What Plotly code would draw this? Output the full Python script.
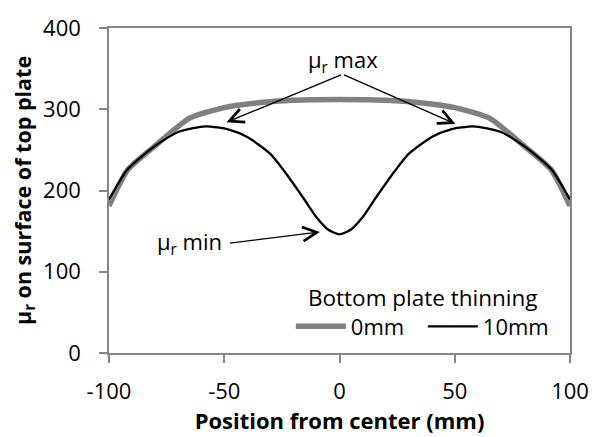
import plotly.graph_objects as go

x_0mm = [-100, -92, -80, -65, -50, -35, -20, 0, 20, 35, 50, 65, 80, 92, 100]
y_0mm = [181, 225, 255, 289, 302, 308, 311, 312, 311, 308, 302, 289, 255, 225, 181]

x_10mm = [-100, -92, -80, -70, -58, -48, -40, -30, -24, -15, -10, -5, 0,
          5, 10, 15, 24, 30, 40, 48, 58, 70, 80, 92, 100]
y_10mm = [189, 226, 255, 272, 279, 275, 266, 245, 224, 188, 167, 152, 146,
          152, 167, 188, 224, 245, 266, 275, 279, 272, 255, 226, 189]

x_ticks = [-100, -50, 0, 50, 100]
x_ticktext = ["-100", "-50", "0", "50", "100"]
y_ticks = [0, 100, 200, 300, 400]

font_family = "'Open Sans', sans-serif"
fs = 22

fig = go.Figure()
fig.add_trace(go.Scatter(x=x_0mm, y=y_0mm, mode="lines", name="0mm",
                         line=dict(color="#808080", width=5.5, shape="spline", smoothing=0.6)))
fig.add_trace(go.Scatter(x=x_10mm, y=y_10mm, mode="lines", name="10mm",
                         line=dict(color="#000000", width=2.3, shape="spline", smoothing=0.6)))

arrow_style = dict(xref="x", yref="y", axref="x", ayref="y", text="", showarrow=True,
                   arrowhead=5, arrowsize=2, arrowwidth=1.4, arrowcolor="black")
for hx, hy in [(-49, 284), (50.3, 282)]:
    fig.add_annotation(x=hx, y=hy, ax=1.3, ay=343, **arrow_style)
fig.add_annotation(x=1.7, y=360, xref="x", yref="y", text="μ<sub>r</sub> max",
                   xanchor="center", yanchor="middle", showarrow=False,
                   font=dict(size=fs, color="black", family=font_family))
fig.add_annotation(x=-8.5, y=149, ax=-48.2, ay=135, **arrow_style)
fig.add_annotation(x=-65, y=136, xref="x", yref="y", text="μ<sub>r</sub> min",
                   xanchor="center", yanchor="middle", showarrow=False,
                   font=dict(size=fs, color="black", family=font_family))
fig.add_annotation(x=(428 - 109) / 469, y=(356 - 299) / 332, xref="paper", yref="paper",
                   text="Bottom plate thinning", xanchor="center", yanchor="middle",
                   showarrow=False, font=dict(size=fs + 0.5, color="black", family=font_family))

axis_common = dict(showline=True, linecolor="#868686", linewidth=1.5, mirror=True,
                   ticks="outside", ticklen=8, tickcolor="#868686", tickwidth=1.5,
                   showgrid=False, zeroline=False,
                   tickfont=dict(size=fs, color="black", family=font_family))

fig.update_layout(
    width=601, height=437,
    margin=dict(l=109, r=22, t=24, b=81),
    plot_bgcolor="white", paper_bgcolor="white",
    font=dict(family=font_family, color="black"),
    xaxis=dict(range=[-100, 100], tickvals=x_ticks, ticktext=x_ticktext,
               ticklabelstandoff=10,
               title=dict(text="<b>Position from center (mm)</b>", font=dict(size=22), standoff=4),
               **axis_common),
    yaxis=dict(range=[0, 400], tickvals=y_ticks, ticklabelstandoff=14,
               title=dict(text="<b>μ<sub>r</sub> on surface of top plate</b>", font=dict(size=21.5), standoff=6),
               **axis_common),
    showlegend=True,
    legend=dict(orientation="h", x=(294 - 109) / 469, y=(356 - 329) / 332,
                xanchor="left", yanchor="middle",
                bgcolor="rgba(0,0,0,0)", font=dict(size=fs, color="black"),
                itemwidth=50, entrywidth=67, entrywidthmode="pixels", tracegroupgap=0),
)

fig.write_html("out.html")
